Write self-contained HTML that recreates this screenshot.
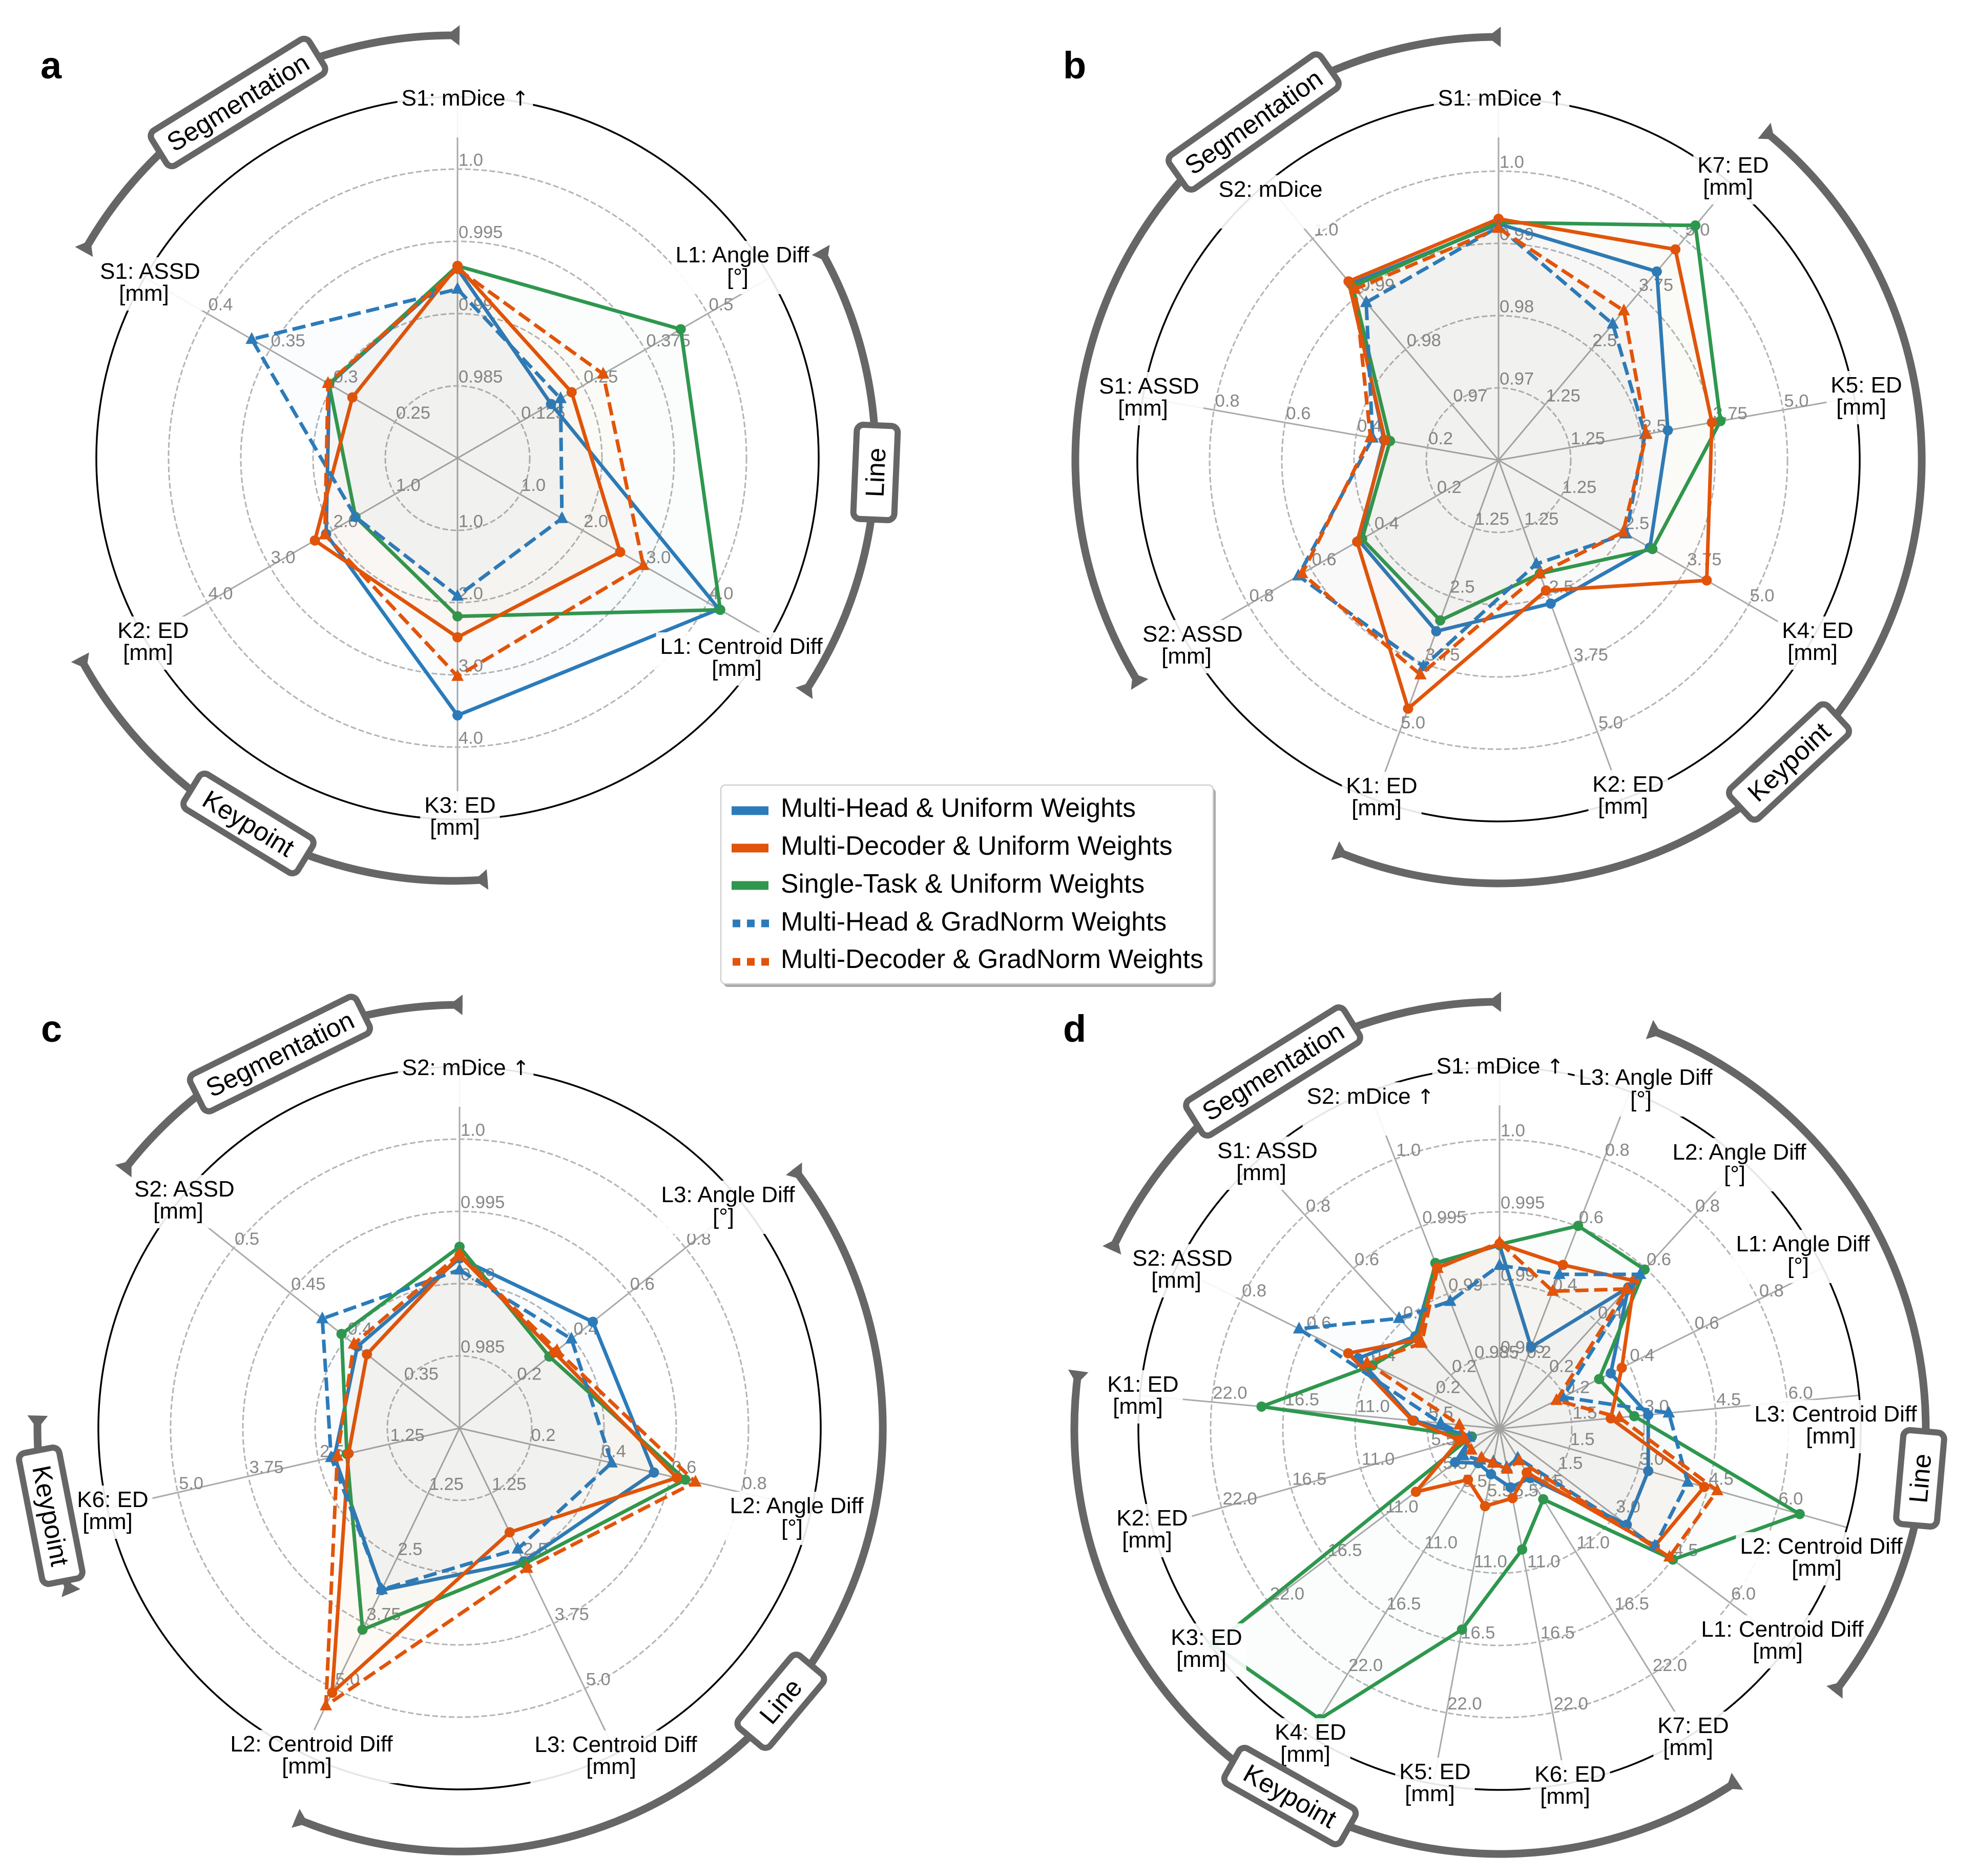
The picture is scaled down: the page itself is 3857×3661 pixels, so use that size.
<!DOCTYPE html>
<html lang="en">
<head>
<meta charset="utf-8">
<title>Radar comparison of multi-task weighting strategies</title>
<style>
html,body{margin:0;padding:0;background:#fff;}
svg{display:block;position:absolute;left:0;top:0;font-family:"Liberation Sans",Arial,sans-serif;}
.axis-label{font-size:44px;fill:#000;text-anchor:middle;}
.arrow{font-family:"DejaVu Sans",sans-serif;font-size:40px;}
.badge-text{font-size:51px;fill:#000;text-anchor:middle;dominant-baseline:central;}
.letter{font-size:74px;font-weight:bold;fill:#000;}
.legend-text{font-size:51.6px;fill:#000;}
</style>
</head>
<body>
<svg id="chart" xmlns="http://www.w3.org/2000/svg" width="3857" height="3661" viewBox="0 0 3857 3661">
  <rect x="0" y="0" width="3857" height="3661" fill="#fff"/>
  <g id="panel-a"></g>
  <g id="panel-b"></g>
  <g id="panel-c"></g>
  <g id="panel-d"></g>

  <g id="axis-labels">
    <!-- panel a -->
    <text class="axis-label" x="908" y="206">S1: mDice <tspan class="arrow">↑</tspan></text>
    <text class="axis-label" x="1449" y="512">L1: Angle Diff<tspan x="1440" dy="43">[°]</tspan></text>
    <text class="axis-label" x="1447" y="1276">L1: Centroid Diff<tspan x="1438" dy="43">[mm]</tspan></text>
    <text class="axis-label" x="898" y="1586">K3: ED<tspan x="888" dy="43">[mm]</tspan></text>
    <text class="axis-label" x="299" y="1245">K2: ED<tspan x="289" dy="43">[mm]</tspan></text>
    <text class="axis-label" x="293" y="544">S1: ASSD<tspan x="281" dy="43">[mm]</tspan></text>
    <!-- panel b -->
    <text class="axis-label" x="2931" y="206">S1: mDice <tspan class="arrow">↑</tspan></text>
    <text class="axis-label" x="3383" y="337">K7: ED<tspan x="3373" dy="43">[mm]</tspan></text>
    <text class="axis-label" x="3643" y="766">K5: ED<tspan x="3633" dy="43">[mm]</tspan></text>
    <text class="axis-label" x="3548" y="1245">K4: ED<tspan x="3538" dy="43">[mm]</tspan></text>
    <text class="axis-label" x="3178" y="1545">K2: ED<tspan x="3168" dy="43">[mm]</tspan></text>
    <text class="axis-label" x="2697" y="1548">K1: ED<tspan x="2687" dy="43">[mm]</tspan></text>
    <text class="axis-label" x="2328" y="1252">S2: ASSD<tspan x="2316" dy="43">[mm]</tspan></text>
    <text class="axis-label" x="2243" y="768">S1: ASSD<tspan x="2231" dy="43">[mm]</tspan></text>
    <text class="axis-label" x="2480" y="384">S2: mDice</text>
    <!-- panel c -->
    <text class="axis-label" x="909" y="2098">S2: mDice <tspan class="arrow">↑</tspan></text>
    <text class="axis-label" x="1421" y="2346">L3: Angle Diff<tspan x="1412" dy="43">[°]</tspan></text>
    <text class="axis-label" x="1555" y="2953">L2: Angle Diff<tspan x="1546" dy="43">[°]</tspan></text>
    <text class="axis-label" x="1202" y="3419">L3: Centroid Diff<tspan x="1193" dy="43">[mm]</tspan></text>
    <text class="axis-label" x="608" y="3418">L2: Centroid Diff<tspan x="599" dy="43">[mm]</tspan></text>
    <text class="axis-label" x="220" y="2941">K6: ED<tspan x="210" dy="43">[mm]</tspan></text>
    <text class="axis-label" x="360" y="2335">S2: ASSD<tspan x="348" dy="43">[mm]</tspan></text>
    <!-- panel d -->
    <text class="axis-label" x="2928" y="2095">S1: mDice <tspan class="arrow">↑</tspan></text>
    <text class="axis-label" x="3212" y="2117">L3: Angle Diff<tspan x="3203" dy="43">[°]</tspan></text>
    <text class="axis-label" x="3395" y="2263">L2: Angle Diff<tspan x="3386" dy="43">[°]</tspan></text>
    <text class="axis-label" x="3519" y="2442">L1: Angle Diff<tspan x="3510" dy="43">[°]</tspan></text>
    <text class="axis-label" x="3583" y="2774">L3: Centroid Diff<tspan x="3574" dy="43">[mm]</tspan></text>
    <text class="axis-label" x="3555" y="3032">L2: Centroid Diff<tspan x="3546" dy="43">[mm]</tspan></text>
    <text class="axis-label" x="3479" y="3194">L1: Centroid Diff<tspan x="3470" dy="43">[mm]</tspan></text>
    <text class="axis-label" x="3305" y="3382">K7: ED<tspan x="3295" dy="43">[mm]</tspan></text>
    <text class="axis-label" x="3065" y="3477">K6: ED<tspan x="3055" dy="43">[mm]</tspan></text>
    <text class="axis-label" x="2801" y="3472">K5: ED<tspan x="2791" dy="43">[mm]</tspan></text>
    <text class="axis-label" x="2558" y="3395">K4: ED<tspan x="2548" dy="43">[mm]</tspan></text>
    <text class="axis-label" x="2355" y="3210">K3: ED<tspan x="2345" dy="43">[mm]</tspan></text>
    <text class="axis-label" x="2249" y="2977">K2: ED<tspan x="2239" dy="43">[mm]</tspan></text>
    <text class="axis-label" x="2231" y="2716">K1: ED<tspan x="2221" dy="43">[mm]</tspan></text>
    <text class="axis-label" x="2308" y="2470">S2: ASSD<tspan x="2296" dy="43">[mm]</tspan></text>
    <text class="axis-label" x="2474" y="2260">S1: ASSD<tspan x="2462" dy="43">[mm]</tspan></text>
    <text class="axis-label" x="2675" y="2154">S2: mDice <tspan class="arrow">↑</tspan></text>
  </g>

  <g id="group-arcs"></g>

  <g id="badges">
    <g transform="translate(464.5 200) rotate(-31.7)"><rect x="-181" y="-40" width="362" height="80" rx="13" fill="#fff" stroke="#666" stroke-width="12"/><text class="badge-text" x="0" y="0">Segmentation</text></g>
    <g transform="translate(1709 922) rotate(-87.6)"><rect x="-92" y="-40" width="184" height="80" rx="13" fill="#fff" stroke="#666" stroke-width="12"/><text class="badge-text" x="0" y="0">Line</text></g>
    <g transform="translate(485 1607) rotate(31.5)"><rect x="-130" y="-40" width="260" height="80" rx="13" fill="#fff" stroke="#666" stroke-width="12"/><text class="badge-text" x="0" y="0">Keypoint</text></g>

    <g transform="translate(2447 238) rotate(-35.2)"><rect x="-181" y="-40" width="362" height="80" rx="13" fill="#fff" stroke="#666" stroke-width="12"/><text class="badge-text" x="0" y="0">Segmentation</text></g>
    <g transform="translate(3492 1487) rotate(-43)"><rect x="-130" y="-40" width="260" height="80" rx="13" fill="#fff" stroke="#666" stroke-width="12"/><text class="badge-text" x="0" y="0">Keypoint</text></g>

    <g transform="translate(546.5 2057) rotate(-26.3)"><rect x="-181" y="-40" width="362" height="80" rx="13" fill="#fff" stroke="#666" stroke-width="12"/><text class="badge-text" x="0" y="0">Segmentation</text></g>
    <g transform="translate(1524 3320) rotate(-50)"><rect x="-92" y="-40" width="184" height="80" rx="13" fill="#fff" stroke="#666" stroke-width="12"/><text class="badge-text" x="0" y="0">Line</text></g>
    <g transform="translate(99 2958) rotate(79)"><rect x="-130" y="-40" width="260" height="80" rx="13" fill="#fff" stroke="#666" stroke-width="12"/><text class="badge-text" x="0" y="0">Keypoint</text></g>

    <g transform="translate(2485 2091) rotate(-32)"><rect x="-181" y="-40" width="362" height="80" rx="13" fill="#fff" stroke="#666" stroke-width="12"/><text class="badge-text" x="0" y="0">Segmentation</text></g>
    <g transform="translate(3748 2885) rotate(-85)"><rect x="-92" y="-40" width="184" height="80" rx="13" fill="#fff" stroke="#666" stroke-width="12"/><text class="badge-text" x="0" y="0">Line</text></g>
    <g transform="translate(2518 3505) rotate(29.4)"><rect x="-130" y="-40" width="260" height="80" rx="13" fill="#fff" stroke="#666" stroke-width="12"/><text class="badge-text" x="0" y="0">Keypoint</text></g>
  </g>

  <text class="letter" x="79" y="153">a</text>
  <text class="letter" x="2075" y="153">b</text>
  <text class="letter" x="80" y="2033">c</text>
  <text class="letter" x="2075" y="2033">d</text>

  <g id="legend">
    <rect x="1412" y="1538" width="961" height="388" rx="9" fill="#aaa"/>
    <rect x="1407" y="1532" width="961" height="388" rx="9" fill="#fff" stroke="#d0d0d0" stroke-width="2.5"/>
    <g><line x1="1428" x2="1500" y1="1582" y2="1582" stroke="#2b7bba" stroke-width="17"/><text class="legend-text" x="1524" y="1594">Multi-Head &amp; Uniform Weights</text></g>
    <g><line x1="1428" x2="1500" y1="1655" y2="1655" stroke="#e1540a" stroke-width="17"/><text class="legend-text" x="1524" y="1668">Multi-Decoder &amp; Uniform Weights</text></g>
    <g><line x1="1428" x2="1500" y1="1728" y2="1728" stroke="#2e974e" stroke-width="17"/><text class="legend-text" x="1524" y="1742">Single-Task &amp; Uniform Weights</text></g>
    <g><line x1="1430" x2="1502" y1="1802" y2="1802" stroke="#2b7bba" stroke-width="15" stroke-dasharray="15 13"/><text class="legend-text" x="1524" y="1816">Multi-Head &amp; GradNorm Weights</text></g>
    <g><line x1="1430" x2="1502" y1="1877" y2="1877" stroke="#e1540a" stroke-width="15" stroke-dasharray="15 13"/><text class="legend-text" x="1524" y="1889">Multi-Decoder &amp; GradNorm Weights</text></g>
  </g>
</svg>

<script>
/* ---------- Panel a data ---------- */
const aCategories = ['s1-mdice','l1-angle','l1-centroid','k3-ed','k2-ed','s1-assd'];
const aTicks = [
  ['0.985','0.99','0.995','1.0'],
  ['0.125','0.25','0.375','0.5'],
  ['1.0','2.0','3.0','4.0'],
  ['1.0','2.0','3.0','4.0'],
  ['1.0','2.0','3.0','4.0'],
  ['0.25','0.3','0.35','0.4']
];
const aMultiHeadUniform    = [0.9931,0.187,4.18,3.56,2.10,0.3025];
const aMultiDecoderUniform = [0.9933,0.228,2.60,2.48,2.28,0.284];
const aSingleTaskUniform   = [0.9933,0.446,4.20,2.19,1.63,0.3027];
const aMultiHeadGradNorm   = [0.9917,0.206,1.67,1.91,1.63,0.3645];
const aMultiDecoderGradNorm= [0.9931,0.291,2.97,3.02,2.12,0.3035];

/* ---------- Panel b data ---------- */
const bCategories = ['s1-mdice','k7-ed','k5-ed','k4-ed','k2-ed','k1-ed','s2-assd','s1-assd','s2-mdice'];
const bTicks = [
  ['0.97','0.98','0.99','1.0'],
  ['1.25','2.5','3.75','5.0'],
  ['1.25','2.5','3.75','5.0'],
  ['1.25','2.5','3.75','5.0'],
  ['1.25','2.5','3.75','5.0'],
  ['1.25','2.5','3.75','5.0'],
  ['0.2','0.4','0.6','0.8'],
  ['0.2','0.4','0.6','0.8'],
  ['0.97','0.98','0.99','1.0']
];
const bMultiHeadUniform    = [0.9927,4.26,2.975,3.025,2.64,3.15,0.446,0.322,0.9918];
const bMultiDecoderUniform = [0.9934,4.76,3.75,4.16,2.40,4.575,0.452,0.319,0.9923];
const bSingleTaskUniform   = [0.9929,5.30,3.90,3.075,2.09,2.95,0.436,0.305,0.9914];
const bMultiHeadGradNorm   = [0.9923,3.075,2.575,2.55,1.91,3.80,0.64,0.354,0.9885];
const bMultiDecoderGradNorm= [0.9921,3.375,2.60,2.49,2.09,3.95,0.628,0.36,0.9909];

/* ---------- Panel c data ---------- */
const cCategories = ['s2-mdice','l3-angle','l2-angle','l3-centroid','l2-centroid','k6-ed','s2-assd'];
const cTicks = [
  ['0.985','0.99','0.995','1.0'],
  ['0.2','0.4','0.6','0.8'],
  ['0.2','0.4','0.6','0.8'],
  ['1.25','2.5','3.75','5.0'],
  ['1.25','2.5','3.75','5.0'],
  ['1.25','2.5','3.75','5.0'],
  ['0.35','0.4','0.45','0.5']
];
const cMultiHeadUniform    = [0.99175,0.472,0.552,2.56,3.11,2.22,0.3905];
const cMultiDecoderUniform = [0.99195,0.336,0.617,2.00,5.08,1.97,0.382];
const cSingleTaskUniform   = [0.99255,0.318,0.641,2.60,3.87,2.00,0.4045];
const cMultiHeadGradNorm   = [0.99095,0.396,0.432,2.32,3.10,2.28,0.4215];
const cMultiDecoderGradNorm= [0.99205,0.345,0.67,2.69,5.33,2.17,0.3935];

/* ---------- Panel d data ---------- */
const dCategories = ['s1-mdice','l3-angle','l2-angle','l1-angle','l3-centroid','l2-centroid','l1-centroid','k7-ed','k6-ed','k5-ed','k4-ed','k3-ed','k2-ed','k1-ed','s2-assd','s1-assd','s2-mdice'];
const dTicks = [
  ['0.985','0.99','0.995','1.0'],
  ['0.2','0.4','0.6','0.8'],
  ['0.2','0.4','0.6','0.8'],
  ['0.2','0.4','0.6','0.8'],
  ['1.5','3.0','4.5','6.0'],
  ['1.5','3.0','4.5','6.0'],
  ['1.5','3.0','4.5','6.0'],
  ['5.5','11.0','16.5','22.0'],
  ['5.5','11.0','16.5','22.0'],
  ['5.5','11.0','16.5','22.0'],
  ['5.5','11.0','16.5','22.0'],
  ['5.5','11.0','16.5','22.0'],
  ['5.5','11.0','16.5','22.0'],
  ['5.5','11.0','16.5','22.0'],
  ['0.2','0.4','0.6','0.8'],
  ['0.2','0.4','0.6','0.8'],
  ['0.985','0.99','0.995','1.0']
];
const dMultiHeadUniform    = [0.9927,0.242,0.529,0.344,3.10,3.21,3.31,4.42,4.55,3.53,3.09,4.24,2.2,6.55,0.437,0.346,0.99225];
const dMultiDecoderUniform = [0.9928,0.486,0.554,0.378,2.32,4.42,4.04,3.93,5.38,6.0,4.57,7.98,3.17,6.66,0.468,0.334,0.99195];
const dSingleTaskUniform   = [0.99275,0.602,0.596,0.308,2.81,6.48,4.51,6.32,9.36,15.56,26.0,27.3,2.27,18.2,0.393,0.337,0.9923];
const dMultiHeadGradNorm   = [0.9913,0.458,0.578,0.196,3.53,4.06,4.04,2.63,3.0,2.55,2.8,3.42,2.4,4.5,0.62,0.413,0.98945];
const dMultiDecoderGradNorm= [0.9929,0.408,0.523,0.176,2.50,4.70,4.42,2.86,3.13,2.67,2.6,2.69,2.75,3.07,0.41,0.32,0.9919];

/* ---------- Helpers ---------- */
const NS = 'http://www.w3.org/2000/svg';
const RING = 141;
const OUTER = 705;
const BLUE = '#2b7bba', ORANGE = '#e1540a', GREEN = '#2e974e';

function make(tag, attrs, parent) {
  const el = document.createElementNS(NS, tag);
  for (const k in attrs) el.setAttribute(k, attrs[k]);
  parent.appendChild(el);
  return el;
}
/* radial scale: the first tick sits on ring 1, evenly stepped rings after it */
function radius(value, ticks) {
  const t0 = parseFloat(ticks[0]);
  const step = parseFloat(ticks[1]) - t0;
  return RING * (value - (t0 - step)) / step;
}
function point(cx, cy, index, count, r) {
  const a = 2 * Math.PI * index / count;
  return [cx + r * Math.sin(a), cy - r * Math.cos(a)];
}

function drawPanel(groupId, prefix, cx, cy, categories, ticks, seriesDefs) {
  const g = document.getElementById(groupId);
  const n = categories.length;

  for (let i = 0; i < n; i++) {
    const p = point(cx, cy, i, n, OUTER);
    const spoke = make('line', {x1: cx, y1: cy, x2: p[0], y2: p[1], stroke: '#aaaaaa', 'stroke-width': 3}, g);
    
    
  }
  for (let k = 1; k <= 4; k++) {
    const ring = make('circle', {cx: cx, cy: cy, r: RING * k, fill: 'none', stroke: '#b4b4b4', 'stroke-width': 3, 'stroke-dasharray': '11 5'}, g);
    
    
  }
  const outer = make('circle', {cx: cx, cy: cy, r: OUTER, fill: 'none', stroke: '#000', 'stroke-width': 3.5}, g);
  
  

  for (let i = 0; i < n; i++) {
    for (let k = 0; k < 4; k++) {
      const p = point(cx, cy, i, n, radius(parseFloat(ticks[i][k]), ticks[i]));
      const t = make('text', {x: p[0] + 2, y: p[1] - 6.5, 'font-size': 34.5, fill: '#888888'}, g);
      t.textContent = ticks[i][k];
      
      
    }
  }

  seriesDefs.forEach(function (s) {
    const pts = s.values.map(function (v, i) { return point(cx, cy, i, n, radius(v, ticks[i])); });
    const attrs = {
      points: pts.map(function (p) { return p[0].toFixed(1) + ',' + p[1].toFixed(1); }).join(' '),
      fill: s.color, 'fill-opacity': 0.018, stroke: s.color, 'stroke-width': 7, 'stroke-linejoin': 'round'
    };
    if (s.dashed) attrs['stroke-dasharray'] = '26 11';
    const poly = make('polygon', attrs, g);
    
    
    pts.forEach(function (p, i) {
      let m;
      if (s.dashed) {
        const d = 'M' + p[0].toFixed(1) + ' ' + (p[1] - 14).toFixed(1) + 'L' + (p[0] + 12).toFixed(1) + ' ' + (p[1] + 9).toFixed(1) + 'L' + (p[0] - 12).toFixed(1) + ' ' + (p[1] + 9).toFixed(1) + 'Z';
        m = make('path', {d: d, fill: s.color}, g);
      } else {
        m = make('circle', {cx: p[0], cy: p[1], r: 10, fill: s.color}, g);
      }
      
      
    });
  });
}

function seriesFor(mhu, mdu, stu, mhg, mdg) {
  return [
    {name: 'multi-head-uniform', values: mhu, color: BLUE, dashed: false},
    {name: 'single-task-uniform', values: stu, color: GREEN, dashed: false},
    {name: 'multi-decoder-uniform', values: mdu, color: ORANGE, dashed: false},
    {name: 'multi-head-gradnorm', values: mhg, color: BLUE, dashed: true},
    {name: 'multi-decoder-gradnorm', values: mdg, color: ORANGE, dashed: true}
  ];
}

drawPanel('panel-a', 'a', 893, 894, aCategories, aTicks, seriesFor(aMultiHeadUniform, aMultiDecoderUniform, aSingleTaskUniform, aMultiHeadGradNorm, aMultiDecoderGradNorm));
drawPanel('panel-b', 'b', 2925, 898, bCategories, bTicks, seriesFor(bMultiHeadUniform, bMultiDecoderUniform, bSingleTaskUniform, bMultiHeadGradNorm, bMultiDecoderGradNorm));
drawPanel('panel-c', 'c', 897, 2787, cCategories, cTicks, seriesFor(cMultiHeadUniform, cMultiDecoderUniform, cSingleTaskUniform, cMultiHeadGradNorm, cMultiDecoderGradNorm));
drawPanel('panel-d', 'd', 2927, 2788, dCategories, dTicks, seriesFor(dMultiHeadUniform, dMultiDecoderUniform, dSingleTaskUniform, dMultiHeadGradNorm, dMultiDecoderGradNorm));

/* ---------- Translucent white boxes behind axis labels ---------- */
(function () {
  const holder = document.getElementById('axis-labels');
  const labels = Array.prototype.slice.call(holder.querySelectorAll('text'));
  labels.forEach(function (t) {
    const b = t.getBBox();
    const y0 = parseFloat(t.getAttribute('y'));
    const box = document.createElementNS(NS, 'rect');
    box.setAttribute('x', b.x - 8);
    box.setAttribute('y', y0 - 42);
    box.setAttribute('width', b.width + 16);
    box.setAttribute('height', 104);
    box.setAttribute('fill', '#fff');
    box.setAttribute('fill-opacity', '0.9');
    
    
    holder.insertBefore(box, t);
  });
})();

/* ---------- Group arcs ---------- */
function drawArc(name, cx, cy, R, a0, a1) {
  const g = document.getElementById('group-arcs');
  const pos = function (deg, r) {
    const a = deg * Math.PI / 180;
    return [cx + r * Math.sin(a), cy - r * Math.cos(a)];
  };
  const s = pos(a0, R), e = pos(a1, R);
  const large = (a1 - a0) > 180 ? 1 : 0;
  const path = make('path', {
    d: 'M' + s[0].toFixed(1) + ' ' + s[1].toFixed(1) + 'A' + R + ' ' + R + ' 0 ' + large + ' 1 ' + e[0].toFixed(1) + ' ' + e[1].toFixed(1),
    fill: 'none', stroke: '#666', 'stroke-width': 15
  }, g);
  
  
  const inset = 26 / R * 180 / Math.PI;
  [[a0, a0 + inset], [a1, a1 - inset]].forEach(function (pair, i) {
    const b1 = pos(pair[0], R - 20), b2 = pos(pair[0], R + 20), tip = pos(pair[1], R);
    const tri = make('polygon', {
      points: b1[0].toFixed(1) + ',' + b1[1].toFixed(1) + ' ' + b2[0].toFixed(1) + ',' + b2[1].toFixed(1) + ' ' + tip[0].toFixed(1) + ',' + tip[1].toFixed(1),
      fill: '#666'
    }, g);
    
    
  });
}
drawArc('arc-a-segmentation', 884, 894, 825, 299.2, 360.9);
drawArc('arc-a-line', 884, 894, 825, 60.5, 123.8);
drawArc('arc-a-keypoint', 884, 894, 825, 175.3, 241.9);
drawArc('arc-b-segmentation', 2925, 898, 826, 238, 360.3);
drawArc('arc-b-keypoint', 2925, 898, 826, 38.9, 202.7);
drawArc('arc-c-segmentation', 897, 2787, 826, 307.4, 360.4);
drawArc('arc-c-line', 897, 2787, 826, 52.2, 202.8);
drawArc('arc-c-keypoint', 897, 2787, 824, 247, 271.7);
drawArc('arc-d-segmentation', 2927, 2788, 833, 294.7, 360.2);
drawArc('arc-d-line', 2927, 2788, 832, 20.6, 128.2);
drawArc('arc-d-keypoint', 2927, 2788, 830, 146, 277.8);
</script>
</body>
</html>
